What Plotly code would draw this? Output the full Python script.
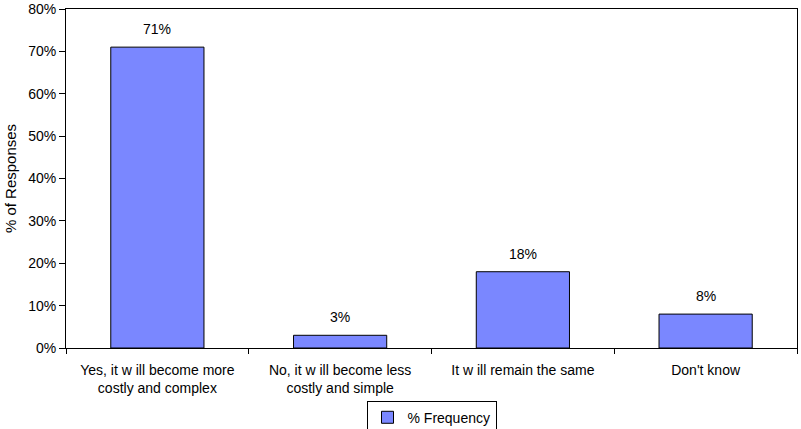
import plotly.graph_objects as go

categories = ["Yes, it w ill become more<br>costly and complex",
              "No, it w ill become less<br>costly and simple",
              "It w ill remain the same",
              "Don't know"]
values = [71, 3, 18, 8]
labels = ["71%", "3%", "18%", "8%"]
series_name = "% Frequency"
y_ticks = [0, 10, 20, 30, 40, 50, 60, 70, 80]
y_ticklabels = ["0%", "10%", "20%", "30%", "40%", "50%", "60%", "70%", "80%"]

font = "Liberation Sans, Arial, sans-serif"
fig = go.Figure()
fig.add_trace(go.Bar(
    x=categories, y=values, name=series_name,
    marker=dict(color="#7A87FF", line=dict(color="black", width=1)),
    width=0.51, showlegend=True,
))
for c, v, t in zip(categories, values, labels):
    fig.add_annotation(x=c, y=v, text=t, showarrow=False, yanchor="bottom",
                       yshift=8, font=dict(family=font, size=14, color="black"))

fig.update_layout(
    width=801, height=429,
    margin=dict(l=66, r=4, t=9, b=81, autoexpand=False),
    paper_bgcolor="white", plot_bgcolor="white",
    font=dict(family=font, size=14, color="black"),
    showlegend=True,
    legend=dict(x=0.5, xanchor="center", xref="paper", y=0.066, yref="container",
                yanchor="top",
                bordercolor="black", borderwidth=1, orientation="h",
                itemwidth=30, font=dict(size=14)),
)
fig.update_xaxes(showline=True, linecolor="black", linewidth=1, mirror=True,
                 ticks="outside", ticklen=5, tickcolor="black", tickson="boundaries",
                 showgrid=False, tickfont=dict(size=14), automargin=False,
                 ticklabelstandoff=9)
fig.update_yaxes(range=[0, 80], tickvals=y_ticks, ticktext=y_ticklabels,
                 showline=True, linecolor="black", linewidth=1, mirror=True,
                 ticks="outside", ticklen=6, tickcolor="black", showgrid=False,
                 title=dict(text="% of Responses", font=dict(size=15), standoff=7),
                 tickfont=dict(size=14), zeroline=False, automargin=False)
fig.write_html("out.html")
